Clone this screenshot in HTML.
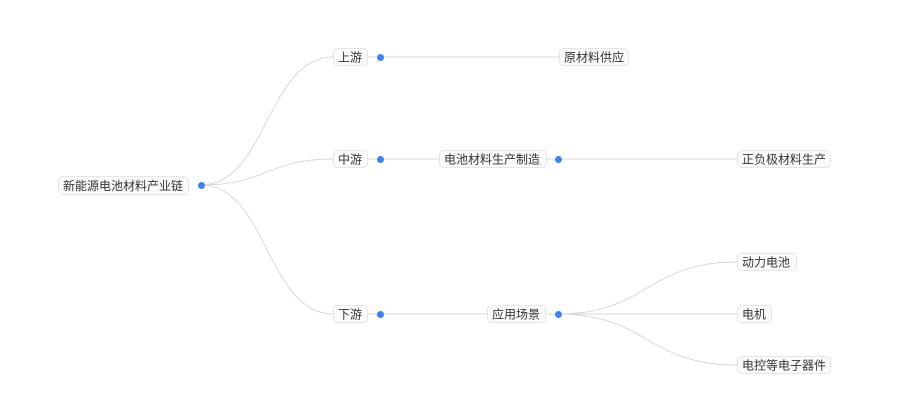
<!DOCTYPE html>
<html><head><meta charset="utf-8"><style>
html,body{margin:0;padding:0;background:#fff;width:920px;height:410px;overflow:hidden}
svg{display:block}
text{font-family:"Liberation Sans","Noto Sans CJK SC",sans-serif;font-size:12px;fill:#333}
.b{fill:#fafafa;stroke:#e6e6e6;stroke-width:1}
.l{fill:none;stroke:#d9d9d9;stroke-width:1}
.d{fill:#3b82f6}
</style></head><body>
<svg width="920" height="410" viewBox="0 0 920 410">
<path class="l" d="M201 185 C267 185 267 57 333 57"/>
<path class="l" d="M201 185 C267 185 267 159 333 159"/>
<path class="l" d="M201 185 C267 185 267 314 333 314"/>
<path class="l" d="M367 57 H559"/>
<path class="l" d="M367 159 H439"/>
<path class="l" d="M546 159 H737"/>
<path class="l" d="M367 314 H487"/>
<path class="l" d="M545 314 H737"/>
<path class="l" d="M558 314 C647 314 647 262 737 262"/>
<path class="l" d="M558 314 C647 314 647 365 737 365"/>
<rect class="b" x="58.5" y="176.5" width="130" height="18" rx="4"/><text x="63" y="190">新能源电池材料产业链</text>
<rect class="b" x="333.5" y="48.5" width="34" height="17" rx="4"/><text x="338" y="61.5">上游</text>
<rect class="b" x="333.5" y="150.5" width="34" height="17" rx="4"/><text x="338" y="163.5">中游</text>
<rect class="b" x="333.5" y="305.5" width="34" height="17" rx="4"/><text x="338" y="318.5">下游</text>
<rect class="b" x="559.5" y="48.5" width="69" height="17" rx="4"/><text x="564" y="61.5">原材料供应</text>
<rect class="b" x="439.5" y="150.5" width="107" height="17" rx="4"/><text x="444" y="163.5">电池材料生产制造</text>
<rect class="b" x="737.5" y="150.5" width="93" height="17" rx="4"/><text x="742" y="163.5">正负极材料生产</text>
<rect class="b" x="487.5" y="305.5" width="58" height="17" rx="4"/><text x="492" y="318.5">应用场景</text>
<rect class="b" x="737.5" y="253.5" width="59" height="17" rx="4"/><text x="742" y="266.5">动力电池</text>
<rect class="b" x="737.5" y="305.5" width="34" height="17" rx="4"/><text x="742" y="318.5">电机</text>
<rect class="b" x="737.5" y="356.5" width="93" height="17" rx="4"/><text x="742" y="369.5">电控等电子器件</text>
<circle class="d" cx="201.5" cy="185.5" r="3.5"/>
<circle class="d" cx="380.5" cy="57.5" r="3.5"/>
<circle class="d" cx="380.5" cy="159.5" r="3.5"/>
<circle class="d" cx="380.5" cy="314.5" r="3.5"/>
<circle class="d" cx="558.5" cy="159.5" r="3.5"/>
<circle class="d" cx="558.5" cy="314.5" r="3.5"/>
</svg>
</body></html>
